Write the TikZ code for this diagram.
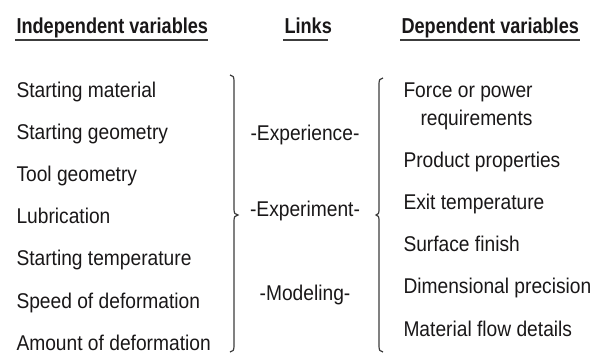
\documentclass[tikz,border=0pt]{standalone}
\usepackage{fontspec}
\setmainfont{Liberation Sans}[FakeStretch=0.9]
\newfontfamily\hdfont{Liberation Sans}[FakeStretch=0.84]
\definecolor{inkc}{RGB}{25,23,24}
\definecolor{linec}{RGB}{60,60,60}

\tikzset{every picture/.style={line width=0.75pt}}
\tikzset{
  txt/.style={anchor=base west,inner sep=0.75pt,text=inkc,font=\fontsize{16}{19}\selectfont},
  lnk/.style={anchor=base,inner sep=0.75pt,text=inkc,font=\fontsize{16}{19}\selectfont},
  hd/.style={anchor=base west,inner sep=0.75pt,text=inkc,font=\hdfont\bfseries\fontsize{16.2}{19}\selectfont},
  uline/.style={draw=linec,line width=1.1pt},
  brc/.style={draw=linec,line width=0.9pt}
}

\begin{document}
\begin{tikzpicture}[x=0.75pt,y=0.75pt,yscale=-1,xscale=1]
        \useasboundingbox (0,0) rectangle (604,354);

        % Header Nodes
        \draw (15,33) node [hd] (hind) {Independent variables};
        \draw (283,33) node [hd] (hlnk) {Links};
        \draw (400,33) node [hd] (hdep) {Dependent variables};
        %Straight Lines
        \draw [uline] (15,40) -- (208,40) ;
        \draw [uline] (283,40) -- (328,40) ;
        \draw [uline] (400,40) -- (580,40) ;

        % Text Node
        \draw (15,97) node [txt] (smat) {Starting material};
        \draw (15,139.2) node [txt] (sgeo) {Starting geometry};
        \draw (15,181.4) node [txt] (tgeo) {Tool geometry};
        \draw (15,223.6) node [txt] (lubr) {Lubrication};
        \draw (15,265.8) node [txt] (stmp) {Starting temperature};
        \draw (15,308) node [txt] (sdef) {Speed of deformation};
        \draw (15,350.2) node [txt] (adef) {Amount of deformation};

        %Shape: Brace
        \draw [brc] (230,75) .. controls (233,75) and (234,77) .. (234,81) -- (234,209) .. controls (234,213) and (235,215) .. (238,215) .. controls (235,215) and (234,217) .. (234,221) -- (234,346) .. controls (234,350) and (233,352) .. (230,352) ;

        % Text Node
        \draw (305,140) node [lnk] (lexp) {-Experience-};
        \draw (305,216) node [lnk] (lexm) {-Experiment-};
        \draw (305,300) node [lnk] (lmod) {-Modeling-};

        %Shape: Brace
        \draw [brc] (383,78) .. controls (380,78) and (379,80) .. (379,84) -- (379,209) .. controls (379,213) and (378.5,215) .. (376,215) .. controls (378.5,215) and (379,217) .. (379,221) -- (379,346) .. controls (379,350) and (380,352) .. (383,352) ;

        % Text Node
        \draw (402,97) node [txt] (frce) {Force or power};
        \draw (419,125) node [txt] (freq) {requirements};
        \draw (402,167) node [txt] (prop) {Product properties};
        \draw (402,209) node [txt] (exit) {Exit temperature};
        \draw (402,251) node [txt] (surf) {Surface finish};
        \draw (402,293) node [txt] (dims) {Dimensional precision};
        \draw (402,336) node [txt] (mflw) {Material flow details};

\end{tikzpicture}
\end{document}
